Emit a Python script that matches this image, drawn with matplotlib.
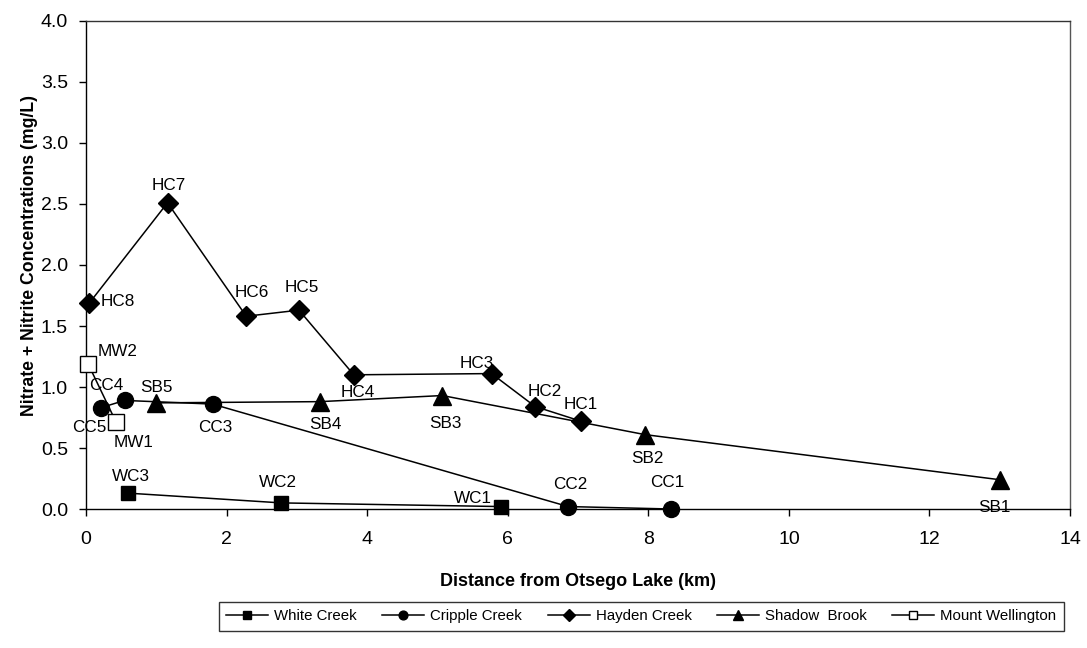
import matplotlib
matplotlib.use("Agg")
import matplotlib.pyplot as plt

plt.rcParams["font.family"] = ["Liberation Sans", "DejaVu Sans"]

# distances (km) and nitrate + nitrite (mg/L) per stream
wc_x = [0.60, 2.78, 5.91]
wc_y = [0.13, 0.05, 0.02]
wc_lab = ["WC3", "WC2", "WC1"]

cc_x = [0.21, 0.55, 1.80, 6.86, 8.32]
cc_y = [0.83, 0.89, 0.86, 0.02, 0.00]
cc_lab = ["CC5", "CC4", "CC3", "CC2", "CC1"]

hc_x = [0.05, 1.16, 2.28, 3.03, 3.81, 5.77, 6.39, 7.04]
hc_y = [1.69, 2.51, 1.58, 1.63, 1.10, 1.11, 0.84, 0.72]
hc_lab = ["HC8", "HC7", "HC6", "HC5", "HC4", "HC3", "HC2", "HC1"]

sb_x = [0.99, 3.33, 5.07, 7.95, 13.0]
sb_y = [0.87, 0.88, 0.93, 0.61, 0.24]
sb_lab = ["SB5", "SB4", "SB3", "SB2", "SB1"]

mw_x = [0.03, 0.43]
mw_y = [1.19, 0.71]
mw_lab = ["MW2", "MW1"]

# label offsets in pixels (dx, dy, ha)
offsets = {
    "WC3": (3, 17, "center"), "WC2": (-3, 20, "center"), "WC1": (-28, 8, "center"),
    "CC5": (-11, -20, "center"), "CC4": (-18, 15, "center"), "CC3": (3, -23, "center"),
    "CC2": (2, 22, "center"), "CC1": (-4, 27, "center"),
    "HC8": (11, 1, "left"), "HC7": (1, 17, "center"), "HC6": (6, 24, "center"),
    "HC5": (3, 23, "center"), "HC4": (4, -18, "center"), "HC3": (-15, 10, "center"),
    "HC2": (10, 15, "center"), "HC1": (0, 17, "center"),
    "SB5": (1, 15, "center"), "SB4": (5, -23, "center"), "SB3": (3, -28, "center"),
    "SB2": (3, -24, "center"), "SB1": (-5, -28, "center"),
    "MW2": (29, 12, "center"), "MW1": (17, -20, "center"),
}

fig = plt.figure(figsize=(10.87, 6.48), dpi=100)
ax = fig.add_axes([0.0791, 0.2145, 0.9053, 0.7531])

series = [
    ("White Creek", wc_x, wc_y, wc_lab, "s", 10.5, "black"),
    ("Cripple Creek", cc_x, cc_y, cc_lab, "o", 11.5, "black"),
    ("Hayden Creek", hc_x, hc_y, hc_lab, "D", 10.5, "black"),
    ("Shadow  Brook", sb_x, sb_y, sb_lab, "^", 12.5, "black"),
    ("Mount Wellington", mw_x, mw_y, mw_lab, "s", 11, "white"),
]

for name, xs, ys, labs, mk, ms, fc in series:
    ax.plot(xs, ys, color="black", lw=1.1, marker=mk, markersize=ms,
            markerfacecolor=fc, markeredgecolor="black", markeredgewidth=1.0,
            clip_on=False, zorder=3)
    for x, y, lab in zip(xs, ys, labs):
        dx, dy, ha = offsets[lab]
        ax.annotate(lab, (x, y), xytext=(dx, dy), textcoords="offset pixels",
                    ha=ha, va="center", fontsize=12.3, zorder=4)

ax.set_xlim(0, 14)
ax.set_ylim(0, 4)
ax.set_xticks(range(0, 15, 2))
ax.set_yticks([i * 0.5 for i in range(9)])
ax.set_yticklabels([f"{i * 0.5:.1f}" for i in range(9)])
ax.tick_params(direction="out", length=5, width=1, labelsize=14)
ax.tick_params(axis="x", pad=11)
ax.tick_params(axis="y", pad=8)
for s in ax.spines.values():
    s.set_linewidth(1.0)
ax.spines["right"].set_color("#555555")
ax.spines["top"].set_color("#333333")

ax.set_xlabel("Distance from Otsego Lake (km)", fontsize=13, fontweight="bold")
ax.xaxis.set_label_coords(0.5, -0.131)
ax.set_ylabel("Nitrate + Nitrite Concentrations (mg/L)", fontsize=12.7,
              fontweight="bold")
ax.yaxis.set_label_coords(-0.0488, 0.52)

small = []
for name, xs, ys, labs, mk, ms, fc in series:
    h, = ax.plot([], [], color="black", lw=1.1, marker=mk, markersize=ms * 0.55,
                 markerfacecolor=fc, markeredgecolor="black", label=name)
    small.append(h)
leg = fig.legend(handles=small, loc="center", bbox_to_anchor=(0.59, 0.049), ncol=5,
                 fontsize=10.8, frameon=True, fancybox=False, edgecolor="black",
                 handlelength=2.8, columnspacing=1.7, borderpad=0.5, handletextpad=0.4)
leg.get_frame().set_linewidth(1.0)

fig.savefig("out.png", dpi=100)
